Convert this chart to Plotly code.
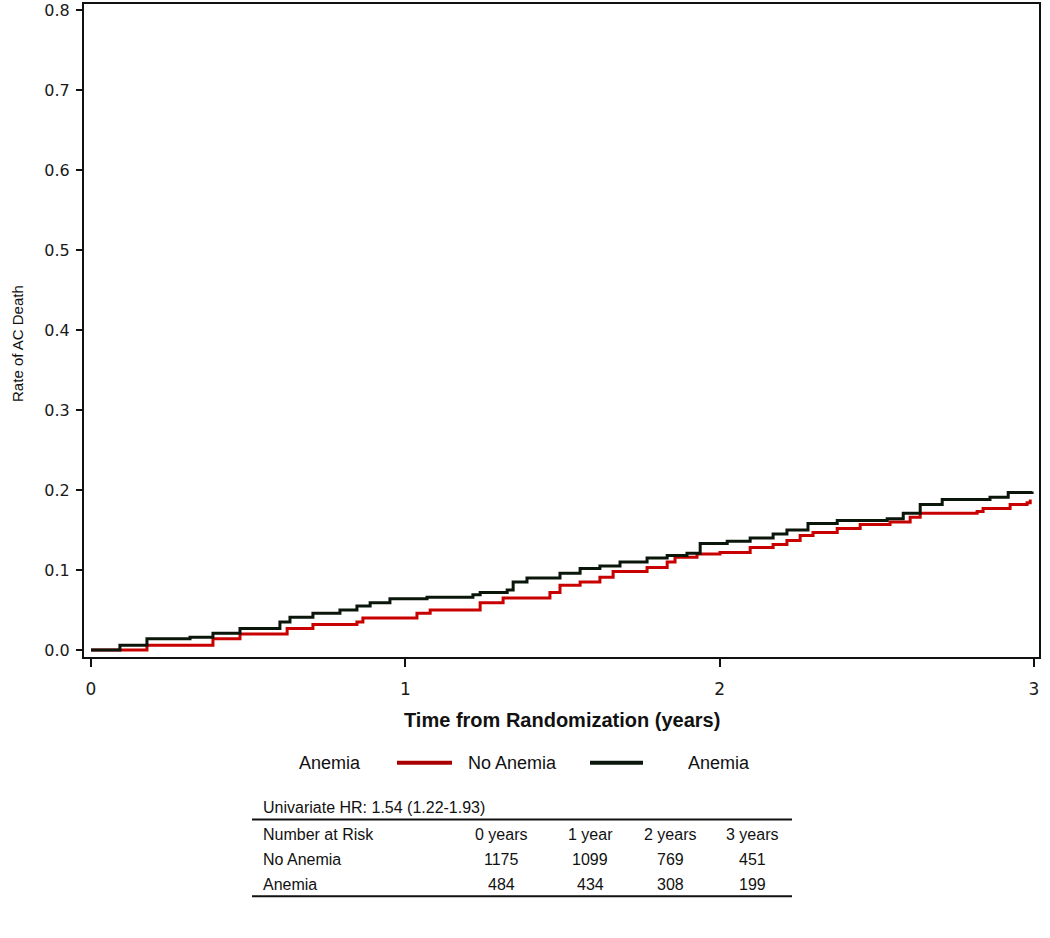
import plotly.graph_objects as go

# ---- data ----
anemia_t = [0.0, 0.092, 0.178, 0.315, 0.388, 0.474, 0.601, 0.633, 0.706, 0.792, 0.846, 0.888, 0.951,
            1.069, 1.215, 1.238, 1.324, 1.343, 1.387, 1.492, 1.556, 1.619, 1.683, 1.769, 1.833, 1.896,
            1.938, 2.024, 2.097, 2.170, 2.214, 2.281, 2.374, 2.533, 2.584, 2.638, 2.708, 2.860, 2.918, 2.994]
anemia_v = [0.0, 0.006, 0.014, 0.016, 0.021, 0.027, 0.035, 0.041, 0.046, 0.050, 0.055, 0.059, 0.064,
            0.066, 0.069, 0.072, 0.075, 0.085, 0.090, 0.096, 0.102, 0.105, 0.110, 0.115, 0.118, 0.121,
            0.133, 0.136, 0.140, 0.145, 0.150, 0.158, 0.162, 0.164, 0.171, 0.182, 0.188, 0.191, 0.197, 0.198]

noanemia_t = [0.0, 0.178, 0.388, 0.474, 0.624, 0.706, 0.846, 0.865, 1.037, 1.079, 1.238, 1.311, 1.460,
              1.492, 1.556, 1.619, 1.661, 1.769, 1.833, 1.858, 1.928, 2.001, 2.097, 2.170, 2.214, 2.256,
              2.297, 2.374, 2.447, 2.542, 2.606, 2.638, 2.819, 2.838, 2.924, 2.978, 2.988]
noanemia_v = [0.0, 0.006, 0.014, 0.020, 0.027, 0.032, 0.035, 0.040, 0.046, 0.050, 0.059, 0.065, 0.072,
              0.081, 0.085, 0.091, 0.098, 0.103, 0.110, 0.116, 0.120, 0.122, 0.128, 0.132, 0.137, 0.143,
              0.147, 0.152, 0.157, 0.160, 0.166, 0.171, 0.173, 0.177, 0.182, 0.184, 0.188]

x_ticks = [0, 1, 2, 3]
y_ticks = [0.0, 0.1, 0.2, 0.3, 0.4, 0.5, 0.6, 0.7, 0.8]

hr_text = "Univariate HR: 1.54 (1.22-1.93)"
risk_header = ["Number at Risk", "0 years", "1 year", "2 years", "3 years"]
risk_rows = [("No Anemia", [1175, 1099, 769, 451]),
             ("Anemia", [484, 434, 308, 199])]

legend_title = "Anemia"
legend_labels = ["No Anemia", "Anemia"]
colors = ["#c80000", "#0a160a"]

# ---- layout geometry (pixels) ----
W, H = 1050, 938
L, R, T, B = 84, 1039, 2, 657


def px(x):
    return (x - L) / (R - L)


def py(y):
    return (B - y) / (B - T)


fig = go.Figure()
fig.add_trace(go.Scatter(x=noanemia_t, y=noanemia_v, mode="lines", line_shape="hv",
                         line=dict(color=colors[0], width=3), name=legend_labels[0], showlegend=False))
fig.add_trace(go.Scatter(x=anemia_t, y=anemia_v, mode="lines", line_shape="hv",
                         line=dict(color=colors[1], width=3), name=legend_labels[1], showlegend=False))

annotations = []
shapes = []

# axis titles
annotations.append(dict(text="Time from Randomization (years)", x=px(562), y=py(720), xref="paper", yref="paper",
                        showarrow=False, xanchor="center", yanchor="middle",
                        font=dict(family="Liberation Sans", size=20, color="#111111", weight="bold")))
annotations.append(dict(text="Rate of AC Death", x=px(18), y=py(343), xref="paper", yref="paper",
                        showarrow=False, xanchor="center", yanchor="middle", textangle=-90,
                        font=dict(family="Liberation Sans", size=15, color="#111111")))

# legend (drawn manually)
lfont = dict(family="Liberation Sans", size=18, color="#111111")
annotations.append(dict(text=legend_title, x=px(297), y=py(763), xref="paper", yref="paper",
                        showarrow=False, xanchor="left", yanchor="middle", font=lfont))
shapes.append(dict(type="line", xref="paper", yref="paper", x0=px(397), x1=px(452), y0=py(763), y1=py(763),
                   line=dict(color="#a80000", width=4)))
annotations.append(dict(text=legend_labels[0], x=px(466), y=py(763), xref="paper", yref="paper",
                        showarrow=False, xanchor="left", yanchor="middle", font=lfont))
shapes.append(dict(type="line", xref="paper", yref="paper", x0=px(590), x1=px(643), y0=py(763), y1=py(763),
                   line=dict(color=colors[1], width=4)))
annotations.append(dict(text=legend_labels[1], x=px(686), y=py(763), xref="paper", yref="paper",
                        showarrow=False, xanchor="left", yanchor="middle", font=lfont))

# number-at-risk table
tfont = dict(family="Liberation Sans", size=16, color="#111111")
annotations.append(dict(text=hr_text, x=px(261), y=py(808), xref="paper", yref="paper",
                        showarrow=False, xanchor="left", yanchor="middle", font=tfont))
shapes.append(dict(type="line", xref="paper", yref="paper", x0=px(252), x1=px(792), y0=py(820), y1=py(820),
                   line=dict(color="#111111", width=2)))
shapes.append(dict(type="line", xref="paper", yref="paper", x0=px(252), x1=px(792), y0=py(897), y1=py(897),
                   line=dict(color="#111111", width=2)))
col_x = [501, 590, 670, 752]
row_y = [835, 860, 885]
annotations.append(dict(text=risk_header[0], x=px(261), y=py(row_y[0]), xref="paper", yref="paper",
                        showarrow=False, xanchor="left", yanchor="middle", font=tfont))
for cx, h in zip(col_x, risk_header[1:]):
    annotations.append(dict(text=h, x=px(cx), y=py(row_y[0]), xref="paper", yref="paper",
                            showarrow=False, xanchor="center", yanchor="middle", font=tfont))
for ry, (label, vals) in zip(row_y[1:], risk_rows):
    annotations.append(dict(text=label, x=px(261), y=py(ry), xref="paper", yref="paper",
                            showarrow=False, xanchor="left", yanchor="middle", font=tfont))
    for cx, v in zip(col_x, vals):
        annotations.append(dict(text=str(v), x=px(cx), y=py(ry), xref="paper", yref="paper",
                                showarrow=False, xanchor="center", yanchor="middle", font=tfont))

x0 = -7 / 314.33
x1 = 3 + 5 / 314.33
y0 = -7 / 802.5
y1 = 0.8 + 6 / 802.5

fig.update_layout(
    width=W, height=H,
    margin=dict(l=L, r=W - R, t=T, b=H - B, pad=0),
    paper_bgcolor="white", plot_bgcolor="white",
    showlegend=False,
    annotations=annotations,
    shapes=shapes,
    xaxis=dict(range=[x0, x1], tickvals=x_ticks, ticktext=[str(v) for v in x_ticks],
               showgrid=False, zeroline=False, showline=True, mirror=True,
               linecolor="#111111", linewidth=2, ticks="outside", ticklen=8, tickwidth=2,
               tickcolor="#111111", ticklabelstandoff=8,
               tickfont=dict(family="DejaVu Sans", size=17, color="#1a1a1a")),
    yaxis=dict(range=[y0, y1], tickvals=y_ticks, ticktext=[f"{v:.1f}" for v in y_ticks],
               showgrid=False, zeroline=False, showline=True, mirror=True,
               linecolor="#111111", linewidth=2, ticks="outside", ticklen=6, tickwidth=2,
               tickcolor="#111111", ticklabelstandoff=3,
               tickfont=dict(family="DejaVu Sans", size=16, color="#1a1a1a")),
)

fig.write_html("out.html", config={"displayModeBar": False},
               post_script="document.body.style.margin='0';")
